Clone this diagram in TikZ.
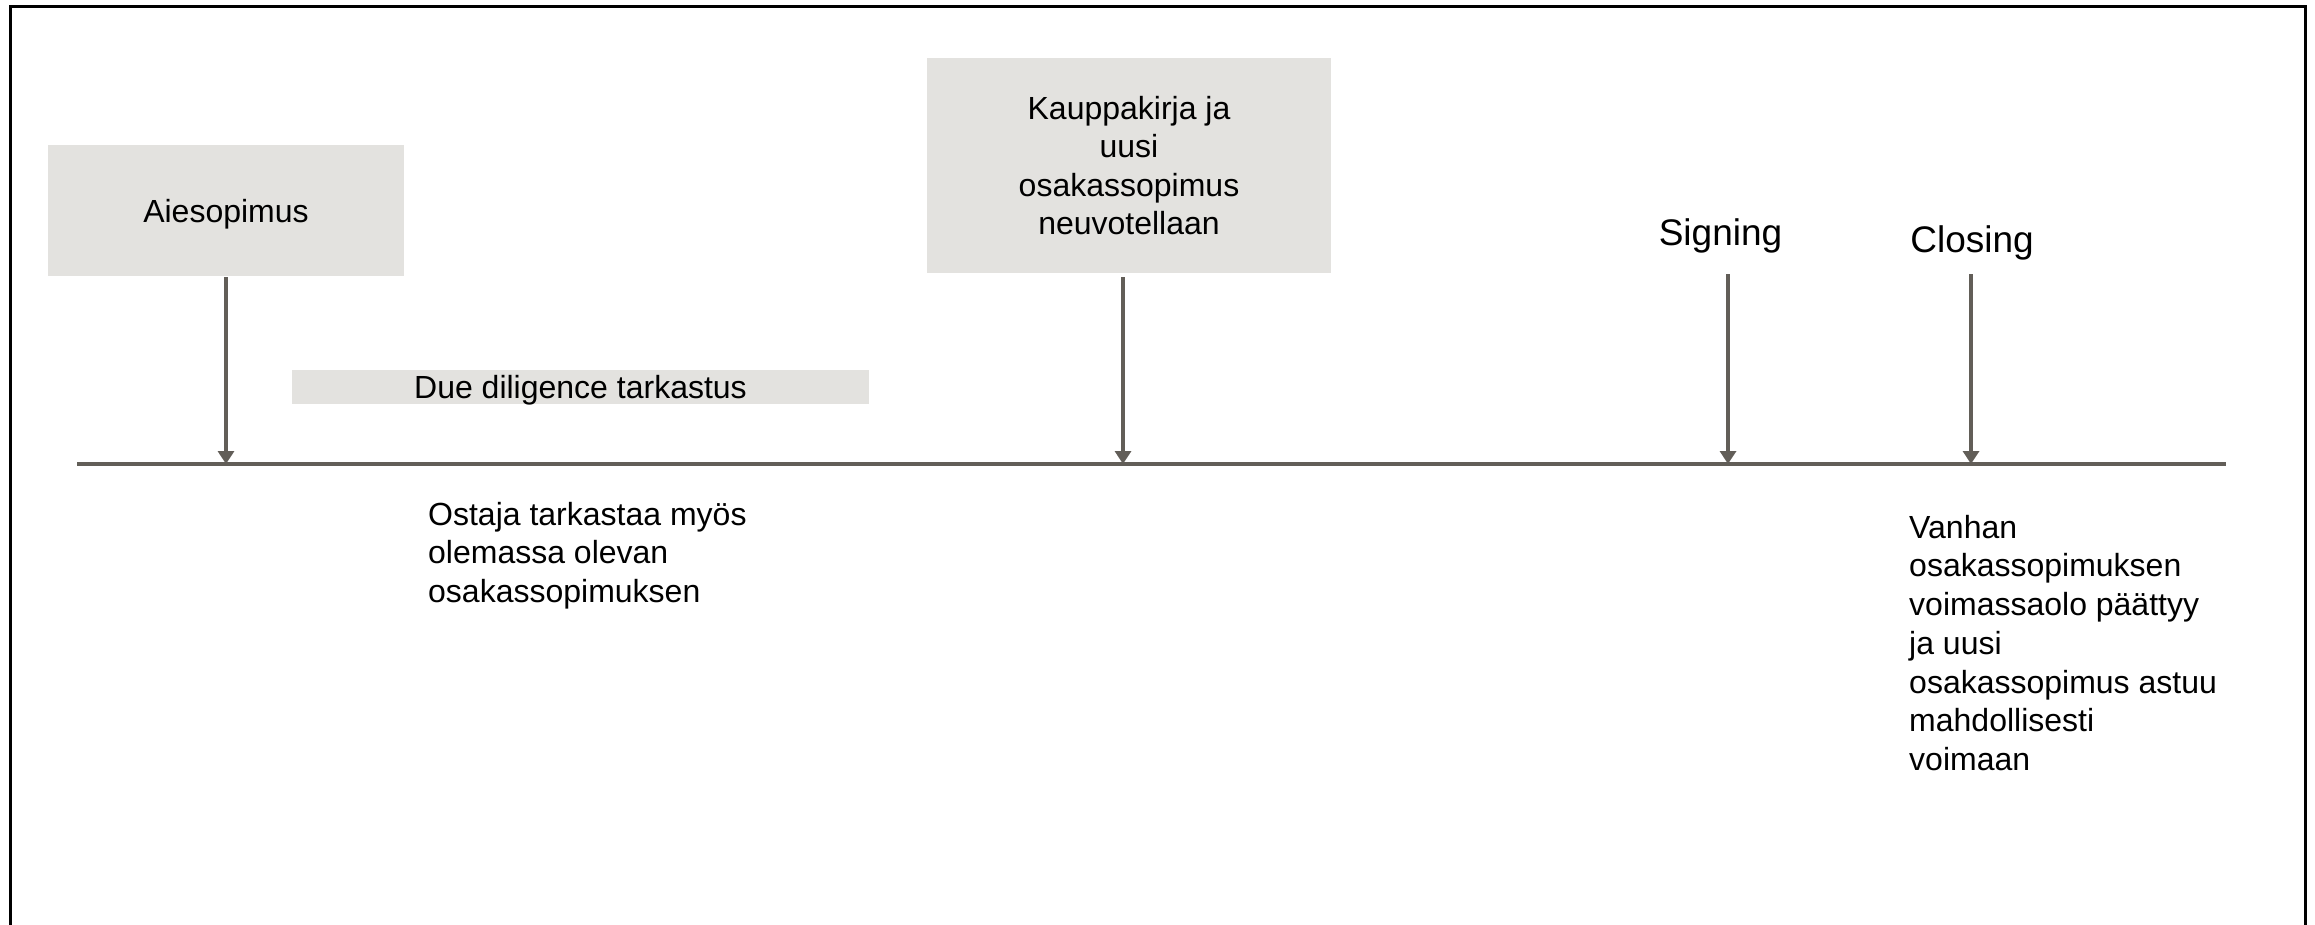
\documentclass[tikz,border=0pt]{standalone}
\usepackage{fontspec}
\setmainfont{Liberation Sans}
\usetikzlibrary{arrows.meta}
\definecolor{linegray}{HTML}{625E58}
\definecolor{boxgray}{HTML}{E3E2DF}
\begin{document}
\begin{tikzpicture}[x=1pt,y=-1pt,
  box/.style={fill=boxgray, inner sep=0pt, font=\fontsize{32}{38.5}\selectfont, align=center},
  lbl/.style={inner sep=0pt, font=\fontsize{32}{38.7}\selectfont, align=left, anchor=north west},
  milestone/.style={inner sep=0pt, font=\fontsize{37}{44}\selectfont, anchor=base},
  conn/.style={draw=linegray, line width=3.3pt, -{Triangle[width=16pt,length=13pt]}},
  timeline/.style={draw=linegray, line width=4pt},
  frame/.style={draw=black, line width=3pt}]
\useasboundingbox (0,0) rectangle (2315,924);
\draw[frame] (10,940) -- (10,6) -- (2305,6) -- (2305,940);

\node[box, minimum width=356pt, minimum height=131pt, text depth=0pt] (aie) at (226,210.5) {Aiesopimus};
\node[box, minimum width=577pt, minimum height=34pt, text depth=0pt] (dd) at (580.5,387) {Due diligence tarkastus};
\node[box, minimum width=404pt, minimum height=215pt] (kau) at (1129,165.5) {Kauppakirja ja\\uusi\\osakassopimus\\neuvotellaan};

\node[milestone] (sign) at (1720.5,245) {Signing};
\node[milestone] (clos) at (1972,252) {Closing};

\node[lbl] (ost) at (428,501) {\rule{0pt}{24pt}Ostaja tarkastaa myös\\olemassa olevan\\osakassopimuksen};
\node[lbl] (van) at (1909,514) {\rule{0pt}{24pt}Vanhan\\osakassopimuksen\\voimassaolo päättyy\\ja uusi\\osakassopimus astuu\\mahdollisesti\\voimaan};

\coordinate (tlA) at (77,464);
\coordinate (tlB) at (2226,464);
\coordinate (t1) at (226,464);
\coordinate (t2) at (1123,464);
\coordinate (t3) at (1728,464);
\coordinate (t4) at (1971,464);
\draw[timeline] (tlA) -- (tlB);

\draw[conn] ([yshift=-1pt]aie.south) -- (t1);
\draw[conn] ([xshift=-6pt,yshift=-4pt]kau.south) -- (t2);
\draw[conn] ([xshift=7.5pt,yshift=-29pt]sign.base) -- (t3);
\draw[conn] ([xshift=-1pt,yshift=-22pt]clos.base) -- (t4);
\end{tikzpicture}
\end{document}
